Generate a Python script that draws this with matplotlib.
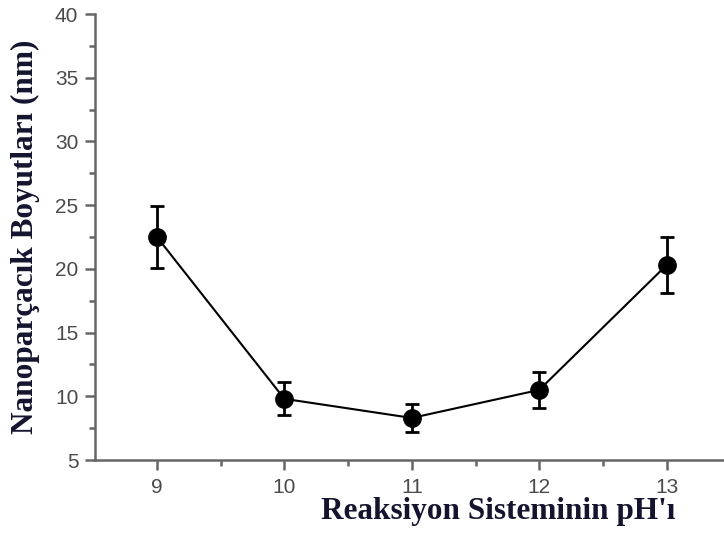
import numpy as np
import matplotlib.pyplot as plt
from matplotlib.ticker import MultipleLocator

# pH of the reaction system vs. nanoparticle size
ph = [9, 10, 11, 12, 13]
size_nm = [22.5, 9.8, 8.3, 10.5, 20.3]
size_err = [2.4, 1.3, 1.1, 1.4, 2.2]

fig = plt.figure(figsize=(7.24, 5.38), dpi=100)
ax = fig.add_axes([95 / 724, 1 - 460 / 538, 1 - 95 / 724, (460 - 14) / 538])

ax.errorbar(ph, size_nm, yerr=size_err, color='black', marker='o',
            markersize=12.5, linewidth=1.5, elinewidth=2, capsize=5, capthick=2)

ax.set_xlim(8.514, 13.45)
ax.set_ylim(5, 40)
ax.xaxis.set_major_locator(MultipleLocator(1))
ax.xaxis.set_minor_locator(MultipleLocator(0.5))
ax.yaxis.set_major_locator(MultipleLocator(5))
ax.yaxis.set_minor_locator(MultipleLocator(2.5))

for side in ['top', 'right']:
    ax.spines[side].set_visible(False)
for side in ['left', 'bottom']:
    ax.spines[side].set_color('#666666')
    ax.spines[side].set_linewidth(1.8)

ax.tick_params(which='both', direction='out', color='#666666', width=1.8,
               labelcolor='#4a4a4a', labelsize=15)
ax.tick_params(which='major', length=7)
ax.tick_params(which='minor', length=4)
ax.tick_params(axis='x', pad=6)
ax.tick_params(axis='y', pad=5)
for lab in ax.get_xticklabels() + ax.get_yticklabels():
    lab.set_family('Liberation Sans')

label_font = dict(family='Liberation Serif', weight='bold', size=22.5, color='#14142e')
ax.set_xlabel("Reaksiyon Sisteminin pH'ı", **label_font)
ax.xaxis.set_label_coords((498 - 95) / 629, -(512 - 460) / 446)
ax.xaxis.label.set_va('center')
ax.set_ylabel('Nanoparçacık Boyutları (nm)', **label_font)
ax.yaxis.set_label_coords(-(95 - 25) / 629, 0.5)
ax.yaxis.label.set_va('center')

fig.savefig('out.png', dpi=100)
